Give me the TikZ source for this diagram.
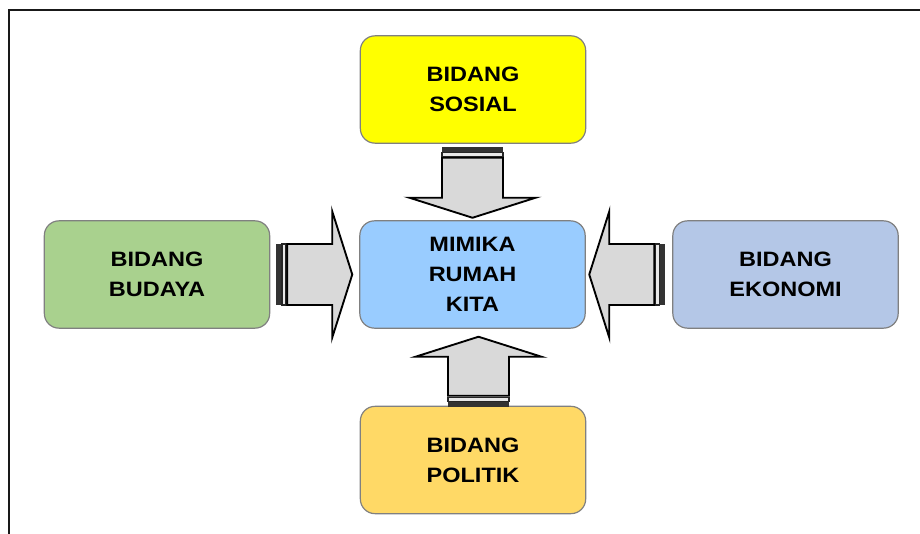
\documentclass[tikz,border=0pt]{standalone}
\usepackage{xcolor}
\usepackage{fontspec}
\usepackage{tikz}
\usetikzlibrary{positioning,calc}

\newfontfamily\boxfont{Liberation Sans}[FakeStretch=1.13]

\definecolor{sosialcol}{HTML}{FFFF00}
\definecolor{midcol}{HTML}{99CCFF}
\definecolor{budayacol}{HTML}{A9D18E}
\definecolor{ekonomicol}{HTML}{B4C7E7}
\definecolor{politikcol}{HTML}{FFD966}
\definecolor{arrowgray}{HTML}{D9D9D9}

% fat arrow with striped tail: start, angle, length
\newcommand{\fatarrow}[3]{%
  \begin{scope}[shift={(#1)},rotate=#2]
    \fill[black!80] (0,-30.5) rectangle (5,30.5);
    \draw[bandline] (5.5,-30.5) rectangle (9.5,30.5);
    \draw[arrowbody] (11,-30.5) -- (#3-20,-30.5) -- (#3-20,-63) -- (#3,0)
      -- (#3-20,63) -- (#3-20,30.5) -- (11,30.5) -- cycle;
  \end{scope}}

\begin{document}
\begin{tikzpicture}[
      x=0.75pt,y=0.75pt,
      box/.style={
        rectangle,
        draw=black!50,
        line width=0.9pt,
        rounded corners=11pt,
        minimum width=169pt,
        minimum height=80.5pt,
        align=center,
        font=\boxfont\bfseries\fontsize{15.6}{22.5}\selectfont
      },
      bandline/.style={draw=black!85,line width=1.1pt,fill=arrowgray!60},
      arrowbody/.style={draw=black,line width=1.4pt,fill=arrowgray,line join=miter}
    ]
    \useasboundingbox (0,0) rectangle (920,-534);
    % Frame
    \draw[line width=1.5pt,black!90] (9,-534) -- (9,-10) -- (920,-10);

    % Boxes
    \node[box,fill=midcol] (mid) at (472.5,-274.5) {MIMIKA\\RUMAH\\KITA};
    \node[box,fill=sosialcol] (sosial) at (473,-89.5) {BIDANG\\SOSIAL};
    \node[box,fill=budayacol] (budaya) at (157,-274.5) {BIDANG\\BUDAYA};
    \node[box,fill=ekonomicol] (ekonomi) at (785.5,-274.5) {BIDANG\\EKONOMI};
    \node[box,fill=politikcol] (politik) at (473,-460) {BIDANG\\POLITIK};

    % Arrows into the middle
    \fatarrow{$(sosial.south)+(-0.5,-3)$}{-90}{71}
    \fatarrow{$(budaya.east)+(6,0)$}{0}{76}
    \fatarrow{$(ekonomi.west)+(-7,0)$}{180}{76}
    \fatarrow{$(politik.north)+(5.5,-1)$}{90}{70}
  \end{tikzpicture}
\end{document}
